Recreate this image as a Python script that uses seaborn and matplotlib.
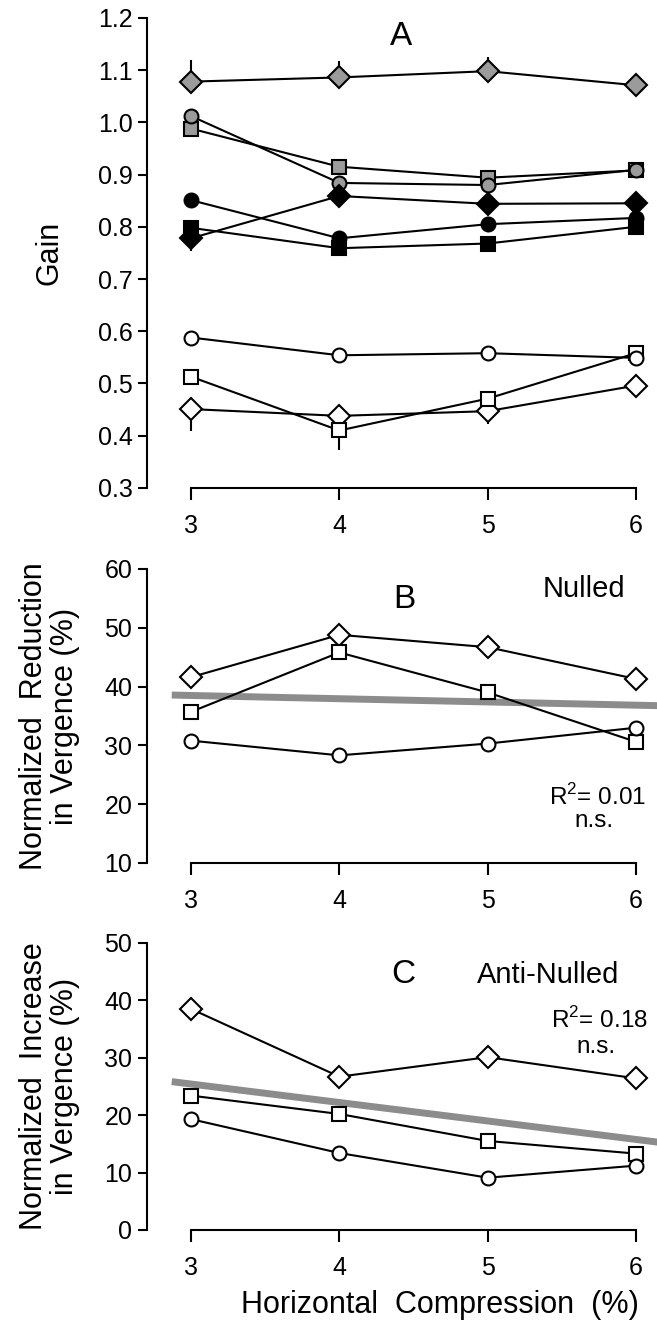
import numpy as np
import matplotlib
matplotlib.use("Agg")
import matplotlib.pyplot as plt
from matplotlib.ticker import FormatStrFormatter
import seaborn as sns

sns.set_style("ticks", {'axes.edgecolor': 'k', 'text.color': 'k', 'axes.labelcolor': 'k',
                        'xtick.color': 'k', 'ytick.color': 'k'})
plt.rcParams['font.family'] = ['Liberation Sans', 'DejaVu Sans']
plt.rcParams['mathtext.fontset'] = 'custom'
plt.rcParams['mathtext.rm'] = 'Liberation Sans'

### data
compression = [3, 4, 5, 6]

# panel A, gain
gain_gray_diamond = [1.078, 1.086, 1.098, 1.071]
gain_gray_circle = [1.012, 0.884, 0.880, 0.909]
gain_gray_square = [0.988, 0.915, 0.894, 0.908]
gain_black_diamond = [0.778, 0.859, 0.844, 0.845]
gain_black_circle = [0.851, 0.778, 0.805, 0.817]
gain_black_square = [0.798, 0.759, 0.768, 0.800]
gain_open_circle = [0.588, 0.554, 0.558, 0.549]
gain_open_square = [0.513, 0.410, 0.471, 0.558]
gain_open_diamond = [0.451, 0.438, 0.447, 0.496]
# one-sided error bars (lower, upper)
err_gray_diamond = ([0, 0, 0, 0], [0.042, 0.031, 0.028, 0])
err_black_diamond = ([0.025, 0, 0, 0], [0, 0, 0, 0])
err_open_square = ([0, 0.038, 0, 0], [0, 0, 0, 0])
err_open_diamond = ([0.042, 0, 0.024, 0], [0, 0, 0, 0])

# panel B, nulled
red_diamond = [41.6, 48.8, 46.7, 41.3]
red_square = [35.7, 45.8, 39.0, 30.6]
red_circle = [30.8, 28.3, 30.3, 33.0]

# panel C, anti-nulled
inc_diamond = [38.5, 26.7, 30.1, 26.4]
inc_square = [23.4, 20.2, 15.5, 13.3]
inc_circle = [19.3, 13.4, 9.1, 11.2]

GRAY = '#9b9b9b'
FIT = '#8c8c8c'
LW = 1.5
MS = {'D': 11, 's': 10.5, 'o': 10}


def series(ax, y, marker, face):
    sns.lineplot(x=compression, y=y, ax=ax, color='k', lw=LW, marker=marker,
                 markersize=MS[marker], markerfacecolor=face, markeredgecolor='k',
                 markeredgewidth=1.5, zorder=3)


def errs(ax, y, e):
    ax.errorbar(compression, y, yerr=np.array(e), fmt='none', ecolor='k',
                elinewidth=1.5, capsize=0, zorder=2)


def fitline(ax, ys):
    x = np.tile(compression, len(ys))
    y = np.concatenate(ys)
    ax.set_xlim(2.87, 6.4)
    sns.regplot(x=x, y=y, ax=ax, scatter=False, ci=None, truncate=False,
                line_kws=dict(color=FIT, lw=5, zorder=1, solid_capstyle='butt'))


def style(ax, ylim, yticks):
    ax.set_xlim(2.703, 6.142)
    ax.set_ylim(*ylim)
    ax.set_xticks(compression)
    ax.set_yticks(yticks)
    ax.tick_params(axis='x', length=8.5, width=1.5, pad=10, labelsize=18, direction='out')
    ax.tick_params(axis='y', length=6.5, width=1.5, pad=4, labelsize=18, direction='out')
    for s in ['left', 'bottom']:
        ax.spines[s].set_linewidth(1.5)
    sns.despine(ax=ax, trim=True)
    ax.set_xlabel('')
    ax.set_ylabel('')


fig = plt.figure(figsize=(6.57, 13.35), dpi=100)
axA = fig.add_axes([0.2237, 0.6345, 0.7763, 0.3521])
axB = fig.add_axes([0.2237, 0.3536, 0.7763, 0.2202])
axC = fig.add_axes([0.2237, 0.0787, 0.7763, 0.2150])

### A
errs(axA, gain_gray_diamond, err_gray_diamond)
errs(axA, gain_black_diamond, err_black_diamond)
errs(axA, gain_open_square, err_open_square)
errs(axA, gain_open_diamond, err_open_diamond)
series(axA, gain_gray_diamond, 'D', GRAY)
series(axA, gain_gray_square, 's', GRAY)
series(axA, gain_gray_circle, 'o', GRAY)
series(axA, gain_black_square, 's', 'k')
series(axA, gain_black_circle, 'o', 'k')
series(axA, gain_black_diamond, 'D', 'k')
series(axA, gain_open_diamond, 'D', 'white')
series(axA, gain_open_square, 's', 'white')
series(axA, gain_open_circle, 'o', 'white')
style(axA, (0.3, 1.2), np.round(np.arange(0.3, 1.21, 0.1), 1))
axA.yaxis.set_major_formatter(FormatStrFormatter('%.1f'))
axA.text(4.416, 1.148, 'A', fontsize=24, ha='center', va='baseline')
axA.set_ylabel('Gain', fontsize=22)
axA.yaxis.set_label_coords(-0.161, 0.5)

### B
fitline(axB, [red_diamond, red_square, red_circle])
series(axB, red_diamond, 'D', 'white')
series(axB, red_square, 's', 'white')
series(axB, red_circle, 'o', 'white')
style(axB, (10, 60), [10, 20, 30, 40, 50, 60])
axB.text(4.44, 53.4, 'B', fontsize=24, ha='center', va='baseline')
axB.text(5.65, 55.2, 'Nulled', fontsize=21, ha='center', va='baseline')
axB.text(6.07, 19.9, 'R$^2$= 0.01', fontsize=17.5, ha='right', va='baseline')
axB.text(5.72, 16.1, 'n.s.', fontsize=17.5, ha='center', va='baseline')
axB.set_ylabel('Normalized  Reduction\nin Vergence (%)', fontsize=22, linespacing=1.05)
axB.yaxis.set_label_coords(-0.131, 0.5)

### C
fitline(axC, [inc_diamond, inc_square, inc_circle])
series(axC, inc_diamond, 'D', 'white')
series(axC, inc_square, 's', 'white')
series(axC, inc_circle, 'o', 'white')
style(axC, (0, 50), [0, 10, 20, 30, 40, 50])
axC.text(4.43, 43.0, 'C', fontsize=24, ha='center', va='baseline')
axC.text(5.41, 43.0, 'Anti-Nulled', fontsize=21, ha='center', va='baseline')
axC.text(6.08, 35.2, 'R$^2$= 0.18', fontsize=17.5, ha='right', va='baseline')
axC.text(5.73, 30.8, 'n.s.', fontsize=17.5, ha='center', va='baseline')
axC.set_ylabel('Normalized  Increase\nin Vergence (%)', fontsize=22, linespacing=1.05)
axC.yaxis.set_label_coords(-0.131, 0.5)
axC.set_xlabel('Horizontal  Compression  (%)', fontsize=22)
axC.xaxis.set_label_coords(0.575, -0.209)
axC.xaxis.label.set_va('top')

fig.savefig('out.png', dpi=100)
